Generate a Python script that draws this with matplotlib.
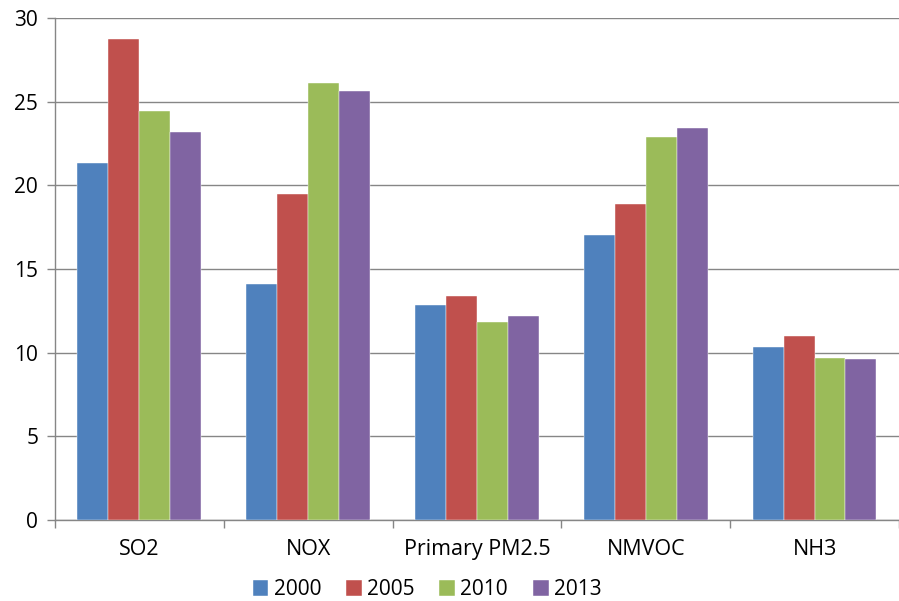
import matplotlib.pyplot as plt
import numpy as np

# データ
pollutants = ["SO2", "NOX", "Primary PM2.5", "NMVOC", "NH3"]
years = ["2000", "2005", "2010", "2013"]
v2000 = [21.35, 14.1, 12.85, 17.0, 10.35]
v2005 = [28.75, 19.5, 13.4, 18.9, 11.0]
v2010 = [24.45, 26.1, 11.8, 22.9, 9.7]
v2013 = [23.2, 25.65, 12.2, 23.4, 9.6]
colors = ["#4F81BD", "#C0504D", "#9BBB59", "#8064A2"]

plt.rcParams["font.family"] = ["Open Sans", "DejaVu Sans"]

fig = plt.figure(figsize=(8.99, 6.01), dpi=100)
ax = fig.add_axes([0.061, 0.135, 0.939, 0.835])

x = np.arange(len(pollutants))
w = 0.183
for i, vals in enumerate([v2000, v2005, v2010, v2013]):
    ax.bar(x + (i - 1.5) * w, vals, w, color=colors[i], label=years[i],
           edgecolor="white", linewidth=0.3, zorder=3)

ax.set_ylim(0, 30)
ax.set_xlim(-0.5, 4.465)
ax.set_yticks(range(0, 31, 5))
ax.grid(True, axis="y", color="#868686", lw=1, zorder=0)

# 目盛り
ax.set_xticks(np.arange(-0.5, 5, 1))
ax.set_xticklabels([])
ax.set_xticks(x, minor=True)
ax.set_xticklabels(pollutants, minor=True)
ax.tick_params(axis="x", which="major", length=6, color="#868686", width=1)
ax.tick_params(axis="x", which="minor", length=0, pad=14, labelsize=15.5)
ax.tick_params(axis="y", length=6, color="#868686", width=1, labelsize=15, pad=6)

for s in ["top", "right"]:
    ax.spines[s].set_visible(False)
for s in ["left", "bottom"]:
    ax.spines[s].set_color("#868686")
    ax.spines[s].set_linewidth(1)

fig.legend(loc="lower center", bbox_to_anchor=(0.475, -0.03), ncol=4,
           frameon=False, fontsize=15, handlelength=0.75, handleheight=0.75,
           handletextpad=0.25, columnspacing=1.2)

fig.savefig("out.png", dpi=100)
